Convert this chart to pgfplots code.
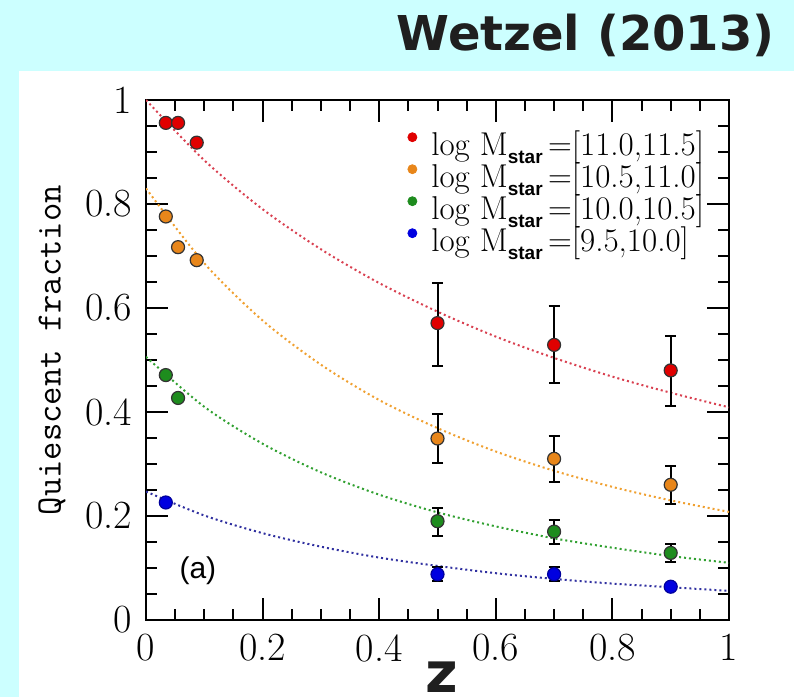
\documentclass[border=0pt]{standalone}
\usepackage{fontspec}
\usepackage{pgfplots}
\pgfplotsset{compat=1.18}
\usepackage{pgfplotstable}
\setsansfont{Liberation Sans}
\newfontfamily\titlefont{DejaVu Sans}

\definecolor{bgcyan}{HTML}{CCFFFF}
\definecolor{mred}{HTML}{E00000}
\definecolor{morange}{HTML}{E8861A}
\definecolor{mgreen}{HTML}{1E8C1E}
\definecolor{mblue}{HTML}{0000E0}
\definecolor{fred}{HTML}{D94050}
\definecolor{forange}{HTML}{F0A030}
\definecolor{fgreen}{HTML}{30A030}
\definecolor{fblue}{HTML}{3030A0}

\pgfplotsset{
  pts/.style={only marks, mark=*, mark size=3.25pt, forget plot,
    mark options={#1},
    error bars/.cd, y dir=both, y explicit,
    error bar style={black, line width=1pt},
    error mark options={black, rotate=90, mark size=2.75pt, line width=1pt}},
  fit/.style={#1, line width=1pt, dash pattern=on 1pt off 1.5pt, smooth, forget plot},
}

% measured points: z, fraction, error up, error down
\pgfplotstableread{
z f ep em
0.034 0.956 0 0
0.055 0.956 0 0
0.087 0.918 0 0
0.5 0.571 0.078 0.082
0.7 0.529 0.075 0.074
0.9 0.480 0.067 0.068
}\redpts
\pgfplotstableread{
z f ep em
0.034 0.776 0 0
0.055 0.717 0 0
0.087 0.692 0 0
0.5 0.349 0.048 0.048
0.7 0.310 0.043 0.044
0.9 0.260 0.037 0.036
}\orangepts
\pgfplotstableread{
z f ep em
0.034 0.471 0 0
0.055 0.427 0 0
0.5 0.190 0.025 0.028
0.7 0.170 0.022 0.024
0.9 0.129 0.018 0.017
}\greenpts
\pgfplotstableread{
z f ep em
0.034 0.226 0 0
0.5 0.088 0.013 0.013
0.7 0.088 0.013 0.013
0.9 0.064 0.005 0.005
}\bluepts

% dotted fit curves
\pgfplotstableread{
z r o g b
0.0 1.000 0.830 0.506 0.247
0.1 0.884 0.686 0.410 0.201
0.2 0.790 0.576 0.339 0.167
0.3 0.713 0.491 0.284 0.141
0.4 0.648 0.423 0.241 0.120
0.5 0.593 0.369 0.207 0.104
0.6 0.545 0.324 0.180 0.090
0.7 0.504 0.287 0.157 0.079
0.8 0.468 0.256 0.139 0.070
0.9 0.437 0.230 0.123 0.063
1.0 0.409 0.208 0.110 0.056
}\fits

\newcommand{\lm}[1]{log M\raisebox{-4pt}{\fontsize{9.5}{9.5}\selectfont\sffamily\bfseries star}\,=[#1]}

\begin{document}
\begin{tikzpicture}
\useasboundingbox (0,0) rectangle (397pt,348.5pt);
\fill[bgcyan] (0,0) rectangle (397pt,348.5pt);
\fill[white] (9.5pt,0pt) rectangle (397pt,313pt);
\node[anchor=base east, inner sep=0pt, font=\titlefont\bfseries\fontsize{24}{24}\selectfont, text=black!88] at (387.5pt,323pt) {Wetzel (2013)};
\begin{axis}[
  at={(73pt,38.5pt)}, anchor=south west,
  scale only axis, width=291.5pt, height=260pt,
  xmin=0, xmax=1, ymin=0, ymax=1,
  xtick={0,0.2,...,1}, ytick={0,0.2,...,1},
  minor tick num=3,
  tick align=inside,
  major tick length=11pt, minor tick length=5.5pt,
  every tick/.style={black, line width=1pt},
  axis line style={line width=1.25pt},
  tick label style={font=\fontsize{20}{20}\selectfont},
  /pgf/number format/assume math mode=true,
  yticklabel style={xshift=-3.5pt},
  xticklabel style={yshift=-3.7pt},
  xlabel={z}, ylabel={Quiescent fraction},
  every axis x label/.style={at={(axis description cs:0.508,-0.1385)}, anchor=base, inner sep=0pt, text depth=0pt, font=\titlefont\bfseries\fontsize{28}{28}\selectfont, text=black!88},
  every axis y label/.style={at={(axis description cs:-0.1612,0.519)}, anchor=center, rotate=90, inner sep=0pt, font=\ttfamily\fontsize{17.8}{17.8}\selectfont},
  legend style={at={(axis description cs:0.4485,0.940)}, anchor=north west, draw=none, fill=none, inner sep=0pt, outer sep=0pt, row sep=0pt,
    font=\fontsize{16.5}{16.5}\selectfont, nodes={inner sep=0pt, text height=12pt, text depth=4pt},
    /tikz/every odd column/.append style={column sep=7pt}},
  legend cell align=left,
]
\addplot[fit=fred] table[x=z, y=r] {\fits};
\addplot[fit=forange] table[x=z, y=o] {\fits};
\addplot[fit=fgreen] table[x=z, y=g] {\fits};
\addplot[fit=fblue] table[x=z, y=b] {\fits};

\addplot[pts={fill=mred, draw=black!80, line width=0.6pt}] table[x=z, y=f, y error plus=ep, y error minus=em] {\redpts};
\addplot[pts={fill=morange, draw=black!80, line width=0.6pt}] table[x=z, y=f, y error plus=ep, y error minus=em] {\orangepts};
\addplot[pts={fill=mgreen, draw=black!80, line width=0.6pt}] table[x=z, y=f, y error plus=ep, y error minus=em] {\greenpts};
\addplot[pts={fill=mblue, draw=mblue!70!black, line width=0.6pt}] table[x=z, y=f, y error plus=ep, y error minus=em] {\bluepts};

\node[font=\sffamily\fontsize{15}{15}\selectfont] at (axis cs:0.089,0.094) {(a)};

\addlegendimage{legend image code/.code={\fill[mred] (0pt,5pt) circle (2.25pt);}}
\addlegendentry{\lm{11.0,11.5}}
\addlegendimage{legend image code/.code={\fill[morange] (0pt,5pt) circle (2.25pt);}}
\addlegendentry{\lm{10.5,11.0}}
\addlegendimage{legend image code/.code={\fill[mgreen] (0pt,5pt) circle (2.25pt);}}
\addlegendentry{\lm{10.0,10.5}}
\addlegendimage{legend image code/.code={\fill[mblue] (0pt,5pt) circle (2.25pt);}}
\addlegendentry{\lm{9.5,10.0}}
\end{axis}
\end{tikzpicture}
\end{document}
